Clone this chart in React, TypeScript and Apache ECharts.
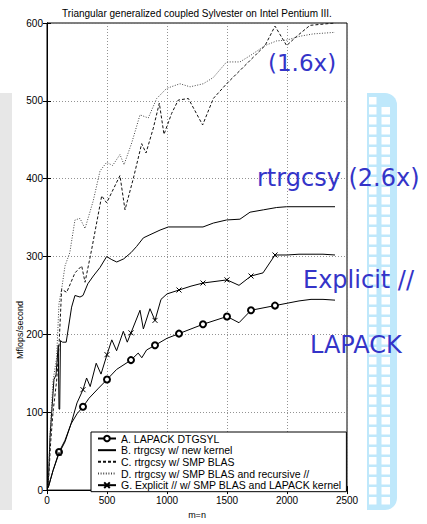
import React, { useEffect, useRef } from "react";
import * as echarts from "echarts";

const titleText = "Triangular generalized coupled Sylvester on Intel Pentium III.";
const seriesNames = [
  "A. LAPACK DTGSYL",
  "B. rtrgcsy w/ new kernel",
  "C. rtrgcsy w/ SMP BLAS",
  "D. rtrgcsy w/ SMP BLAS and recursive //",
  "G. Explicit // w/ SMP BLAS and LAPACK kernel",
];
const markerX = [100, 300, 500, 700, 900, 1100, 1300, 1500, 1700, 1900];

const seriesA = [[10,3],[50,25],[100,49],[150,64],[200,85],[250,98],[300,107],[350,118],[430,131],[500,142],[580,155],[700,167],[760,176],[790,170],[830,180],[900,186],[1000,195],[1100,201],[1200,207],[1300,213],[1400,218],[1500,223],[1600,215],[1700,231],[1800,234],[1900,237],[2000,240],[2100,243],[2200,245],[2300,245],[2400,244]];
const seriesB = [[10,5],[25,68],[40,102],[58,142],[75,148],[94,186],[100,104],[106,104],[112,192],[130,190],[160,190],[205,235],[233,250],[275,248],[300,250],[340,265],[386,275],[442,286],[497,300],[540,296],[581,293],[639,297],[700,305],[747,313],[803,324],[858,328],[942,334],[1011,338],[1300,338],[1386,343],[1497,347],[1608,348],[1692,357],[1803,360],[1914,363],[1997,364],[2400,364]];
const seriesC = [[10,5],[30,60],[50,100],[80,140],[100,185],[122,258],[164,254],[233,279],[289,288],[317,267],[372,309],[456,378],[497,369],[608,404],[650,360],[719,400],[789,445],[825,433],[886,465],[936,497],[975,457],[1039,484],[1094,501],[1178,503],[1297,469],[1386,503],[1497,522],[1608,539],[1817,571],[1900,596],[1997,571],[2081,583],[2192,597],[2400,600]];
const seriesD = [[10,5],[25,70],[50,140],[80,170],[100,240],[122,258],[150,288],[190,305],[233,347],[275,349],[317,336],[386,372],[442,410],[497,421],[547,417],[608,431],[642,418],[706,446],[775,482],[844,478],[914,503],[997,516],[1108,522],[1192,518],[1303,522],[1386,530],[1497,550],[1608,550],[1692,558],[1817,571],[1914,577],[1997,578],[2108,583],[2219,586],[2400,588]];
const seriesG = [[10,3],[50,25],[100,47],[150,62],[200,85],[250,112],[300,129],[330,144],[360,133],[410,163],[450,149],[500,174],[540,193],[580,179],[636,204],[669,190],[700,202],[775,231],[803,207],[858,233],[900,218],[950,245],[1000,252],[1100,257],[1200,262],[1300,266],[1400,268],[1500,270],[1600,263],[1700,275],[1800,279],[1900,302],[2000,302],[2100,303],[2200,303],[2300,303],[2400,302]];

const annotations = [
  { text: "(1.6x)", x: 268, y: 63, size: 23 },
  { text: "rtrgcsy (2.6x)", x: 257, y: 178, size: 24 },
  { text: "Explicit //", x: 303, y: 280, size: 24 },
  { text: "LAPACK", x: 310, y: 345, size: 24 },
];

function withMarkers(data: number[][]) {
  return data.map((p) => ({
    value: p,
    symbol: markerX.includes(p[0]) ? undefined : "none",
  }));
}

function buildLadder() {
  const els: any[] = [];
  const blue = "#bfe8fb";
  els.push({
    type: "rect",
    shape: { x: 367, y: 93, width: 30, height: 417, r: [0, 12, 12, 0] },
    style: { fill: blue },
    z: 0,
  });
  for (let y = 97; y < 505; y += 10) {
    els.push({
      type: "rect",
      shape: { x: 369, y, width: 7.5, height: 7.5 },
      style: { fill: "#fff" },
      z: 1,
    });
    if (y > 100 && y < 500) {
      els.push({
        type: "rect",
        shape: { x: 381.5, y, width: 8.5, height: 7.5 },
        style: { fill: "#fff" },
        z: 1,
      });
    }
  }
  return els;
}

export default function App() {
  const ref = useRef<HTMLDivElement>(null);
  useEffect(() => {
    if (!ref.current) return;
    const chart = echarts.init(ref.current, null, { renderer: "svg" });
    const font = "Liberation Sans";
    const lineBase = { type: "line", showAllSymbol: true, color: "#000" };
    const hidden = { opacity: 0 };
    const option: any = {
      animation: false,
      backgroundColor: "#fff",
      textStyle: { fontFamily: font },
      grid: {
        left: 47, right: 80, top: 23, bottom: 27,
        show: true, borderColor: "#000", borderWidth: 1,
      },
      xAxis: [
        {
          type: "value", min: 0, max: 2500, interval: 500,
          axisLine: { lineStyle: { color: "#000", width: 1 } },
          axisTick: { inside: true, length: 4, lineStyle: { color: "#000" } },
          axisLabel: { color: "#000", fontSize: 10, margin: 5, fontFamily: font, formatter: (v: number) => String(v) },
          splitLine: { show: true, lineStyle: { color: "#777", type: [1, 2], width: 0.8 } },
          name: "m=n", nameLocation: "middle", nameGap: 19,
          nameTextStyle: { fontSize: 9, color: "#000", fontFamily: font },
        },
        {
          type: "value", position: "top", min: 0, max: 2500, interval: 500,
          axisLine: { show: true, lineStyle: { color: "#000" } },
          axisTick: { show: true, inside: true, length: 4, lineStyle: { color: "#000" } },
          axisLabel: { show: false }, splitLine: { show: false },
        },
      ],
      yAxis: [
        {
          type: "value", min: 0, max: 600, interval: 100,
          axisLine: { show: true, lineStyle: { color: "#000", width: 1 } },
          axisTick: { show: true, inside: true, length: 4, lineStyle: { color: "#000" } },
          axisLabel: { color: "#000", fontSize: 10, margin: 4, fontFamily: font },
          splitLine: { show: true, lineStyle: { color: "#777", type: [1, 2], width: 0.8 } },
        },
        {
          type: "value", position: "right", min: 0, max: 600, interval: 100,
          axisLine: { show: true, lineStyle: { color: "#000" } },
          axisTick: { show: true, inside: true, length: 4, lineStyle: { color: "#000" } },
          axisLabel: { show: false }, splitLine: { show: false },
        },
      ],
      legend: {
        orient: "vertical", left: 91, top: 432,
        backgroundColor: "#fff", borderColor: "#000", borderWidth: 1,
        padding: [1, 5, 1, 6], itemWidth: 18, itemHeight: 7, itemGap: 0.67,
        textStyle: { fontSize: 10.5, lineHeight: 11, color: "#000", fontFamily: font },
        data: seriesNames,
      },
      series: [
        {
          ...lineBase, name: seriesNames[0], data: withMarkers(seriesA),
          symbol: "emptyCircle", symbolSize: 6,
          lineStyle: { color: "#000", width: 1 },
          itemStyle: { color: "#000", borderColor: "#000", borderWidth: 1 },
        },
        {
          ...lineBase, name: seriesNames[1], data: seriesB, symbol: "none",
          lineStyle: { color: "#000", width: 1 }, itemStyle: hidden,
        },
        {
          ...lineBase, name: seriesNames[2], data: seriesC, symbol: "none",
          lineStyle: { color: "#111", width: 1, type: [3, 2] }, itemStyle: hidden,
        },
        {
          ...lineBase, name: seriesNames[3], data: seriesD, symbol: "none",
          color: "#444",
          lineStyle: { color: "#444", width: 1, type: [1, 1.6] }, itemStyle: hidden,
        },
        {
          ...lineBase, name: seriesNames[4], data: withMarkers(seriesG),
          symbol: "path://M0 0L10 10M10 0L0 10", symbolSize: 5,
          lineStyle: { color: "#000", width: 1 },
          itemStyle: { color: "none", borderColor: "#000", borderWidth: 1 },
        },
      ],
      graphic: [
        {
          type: "rect",
          shape: { x: 0, y: 93, width: 12, height: 417 },
          style: { fill: "#e7e7e7" }, z: 0,
        },
        ...buildLadder(),
        {
          type: "text", x: 197, y: 13,
          style: { text: titleText, fill: "#000", fontSize: 10, fontFamily: font, textAlign: "center", textVerticalAlign: "middle" },
          z: 50,
        },
        {
          type: "text", x: 20, y: 330, rotation: Math.PI / 2,
          style: { text: "Mflops/second", fill: "#000", fontSize: 9, fontFamily: font, textAlign: "center", textVerticalAlign: "middle" },
          z: 50,
        },
        ...annotations.map((a) => ({
          type: "text", x: a.x, y: a.y,
          style: { text: a.text, fill: "#3434c8", fontSize: a.size, fontFamily: "DejaVu Sans", textAlign: "left", textVerticalAlign: "middle" },
          z: 100,
        })),
      ],
    };
    chart.setOption(option);
    return () => chart.dispose();
  }, []);
  return <div ref={ref} style={{ position: "fixed", left: 0, top: 0, width: 427, height: 524 }} />;
}
